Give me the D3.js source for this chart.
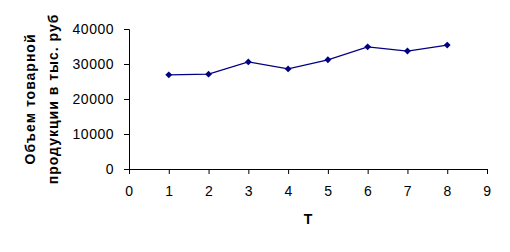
<!DOCTYPE html>
<html>
<head>
<meta charset="utf-8">
<script src="https://cdn.jsdelivr.net/npm/d3@7"></script>
<style>
  html, body { margin: 0; padding: 0; background: #fff; }
  svg { display: block; font-family: Arial, "Liberation Sans", sans-serif; }
</style>
</head>
<body>
<div id="chart"></div>
<script>
// данные графика
const periods = [1, 2, 3, 4, 5, 6, 7, 8];
const volumes = [26900, 27100, 30600, 28600, 31200, 34900, 33700, 35400];
const xTicks = [0, 1, 2, 3, 4, 5, 6, 7, 8, 9];
const yTicks = [0, 10000, 20000, 30000, 40000];
const xTitle = "T";
const yTitleLines = ["Объем товарной", "продукции в тыс. руб"];

const width = 510, height = 252;
const margin = { left: 129, top: 29, right: 23, bottom: 83 };

const svg = d3.select("#chart").append("svg")
    .attr("width", width)
    .attr("height", height);

const x = d3.scaleLinear().domain([0, 9]).range([margin.left, width - margin.right]);
const y = d3.scaleLinear().domain([0, 40000]).range([height - margin.bottom, margin.top]);

// ось X
const xAxis = svg.append("g")
    .attr("transform", `translate(0,${y(0)})`)
    .call(d3.axisBottom(x).tickValues(xTicks).tickSize(5).tickPadding(12).tickFormat(d3.format("d")));

// ось Y
const yAxis = svg.append("g")
    .attr("transform", `translate(${x(0)},0)`)
    .call(d3.axisLeft(y).tickValues(yTicks).tickSize(5).tickPadding(10).tickFormat(d3.format("d")));

[xAxis, yAxis].forEach(g => {
    g.select(".domain").attr("stroke", "#000").attr("stroke-width", 1);
    g.selectAll(".tick line").attr("stroke", "#000");
    g.selectAll(".tick text")
        .attr("fill", "#000")
        .style("font-size", "14px")
        .style("letter-spacing", "0.5px")
        .style("font-family", "Arial, 'Liberation Sans', sans-serif");
});

// линия
const line = d3.line()
    .x((d, i) => x(periods[i]))
    .y(d => y(d));

svg.append("path")
    .datum(volumes)
    .attr("fill", "none")
    .attr("stroke", "#000080")
    .attr("stroke-width", 1.2)
    .attr("d", line);

// маркеры-ромбы
svg.selectAll(".marker")
    .data(volumes)
    .enter()
    .append("path")
    .attr("class", "marker")
    .attr("transform", (d, i) => `translate(${x(periods[i])},${y(d)})`)
    .attr("d", d3.symbol(d3.symbolDiamond2, 30)())
    .attr("fill", "#000080");

// подписи осей
svg.append("text")
    .attr("x", x(4.5))
    .attr("y", 224)
    .attr("text-anchor", "middle")
    .attr("font-weight", "bold")
    .style("font-size", "14px")
    .text(xTitle);

const yTitle = svg.append("text")
    .attr("transform", `translate(35,${y(20000)}) rotate(-90)`)
    .attr("text-anchor", "middle")
    .attr("font-weight", "bold")
    .style("font-size", "14px")
    .style("letter-spacing", "1px");

yTitle.selectAll("tspan")
    .data(yTitleLines)
    .enter()
    .append("tspan")
    .attr("x", 0)
    .attr("dy", (d, i) => i === 0 ? 0 : 23)
    .text(d => d);
</script>
</body>
</html>
